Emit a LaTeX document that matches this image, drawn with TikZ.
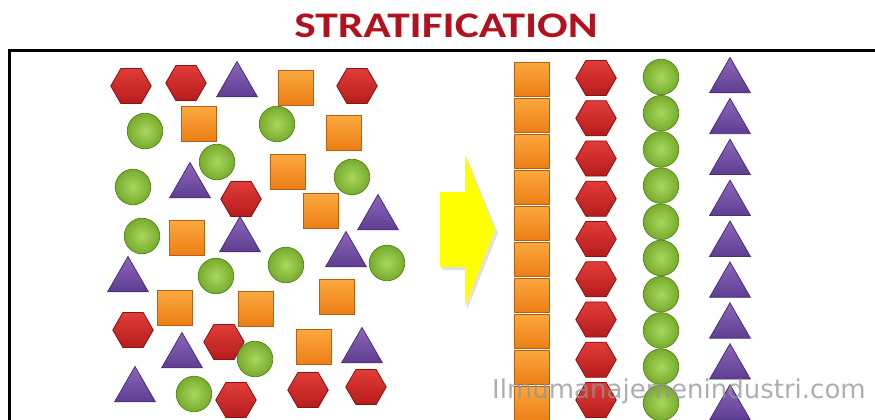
\documentclass[tikz,border=0pt]{standalone}
\usepackage{fontspec}
\setmainfont{Carlito}
\newfontfamily\wmfont{DejaVu Sans}
\usetikzlibrary{shapes.geometric}
\definecolor{hexT}{HTML}{E23C38}
\definecolor{hexB}{HTML}{B51C1C}
\definecolor{hexD}{HTML}{8A1212}
\definecolor{sqT}{HTML}{FBA83E}
\definecolor{sqB}{HTML}{EC7E14}
\definecolor{sqD}{HTML}{B65E12}
\definecolor{ciT}{HTML}{AAD660}
\definecolor{ciB}{HTML}{76AC2C}
\definecolor{ciD}{HTML}{5C8A22}
\definecolor{trT}{HTML}{8C66BA}
\definecolor{trB}{HTML}{5E3E92}
\definecolor{trD}{HTML}{4A2E78}
\definecolor{titleRed}{HTML}{B0121E}
\definecolor{arrowY}{HTML}{FFFF00}
\begin{document}
\begin{tikzpicture}[x=1pt,y=-1pt,
  shp/.style={inner sep=0pt, line width=0.8pt},
  hexa/.style={shp, regular polygon, regular polygon sides=6, minimum size=40.5pt, draw=hexD, top color=hexT, bottom color=hexB},
  sqr/.style={shp, rectangle, minimum size=34.5pt, draw=sqD, top color=sqT, bottom color=sqB},
  circ/.style={shp, circle, minimum size=35.5pt, draw=ciD, inner color=ciT, outer color=ciB},
  tri/.style={shp, regular polygon, regular polygon sides=3, minimum size=47pt, draw=trD, top color=trT, bottom color=trB},
  frameline/.style={line width=3pt, black}]
\useasboundingbox (0,0) rectangle (875,420);
\fill[white] (0,0) rectangle (875,420);
% title
\node[text=titleRed, font=\fontsize{36}{40}\bfseries\selectfont, xscale=1.26] (title) at (446,26) {STRATIFICATION};
% frame
\draw[frameline] (9,420) -- (9,51) -- (875,51);
% left mixed shapes
\foreach \x/\y [count=\i] in {131/86, 186/83, 357/86, 241/199, 133/330, 224/342, 236/400, 308/390, 366/387}
  \node[hexa] (lh\i) at (\x,\y) {};
\foreach \x/\y [count=\i] in {296/88, 199/124, 344/133, 288/172, 321/211, 187/238, 175/308, 256/309, 337/297, 314/347}
  \node[sqr] (ls\i) at (\x,\y) {};
\foreach \x/\y [count=\i] in {145/131, 277/124, 217/162, 352/177, 133/187, 142/236, 387/263, 286/265, 216/276, 255/359, 194/394}
  \node[circ] (lc\i) at (\x,\y) {};
\foreach \x/\y [count=\i] in {237/85, 190/186, 378/218, 240/240, 346/255, 128/280, 182/356, 362/351, 135/390}
  \node[tri] (lt\i) at (\x,\y) {};
% arrow
\fill[black!12] (442,195) -- (467,195) -- (467,158) -- (498,233) -- (467,310) -- (467,270) -- (442,270) -- cycle;
\fill[arrowY] (440,192) -- (465,192) -- (465,155) -- (495,230) -- (465,307) -- (465,267) -- (440,267) -- cycle;
% sorted columns
\foreach \i in {0,...,9}
  \node[sqr] (rs\i) at (532,{79.5+36*\i}) {};
\foreach \i in {0,...,8}
  \node[hexa] (rh\i) at (596,{78+40.25*\i}) {};
\foreach \i in {0,...,9}
  \node[circ] (rc\i) at (661,{77+36.2*\i}) {};
\foreach \i in {0,...,8}
  \node[tri] (rt\i) at (730,{81+40.9*\i}) {};
% watermark
\node[anchor=base west, inner sep=0pt, text=black!42, opacity=0.75, font=\wmfont\fontsize{26}{30}\selectfont] (wm) at (492,398) {Ilmumanajemenindustri.com};
\end{tikzpicture}
\end{document}
